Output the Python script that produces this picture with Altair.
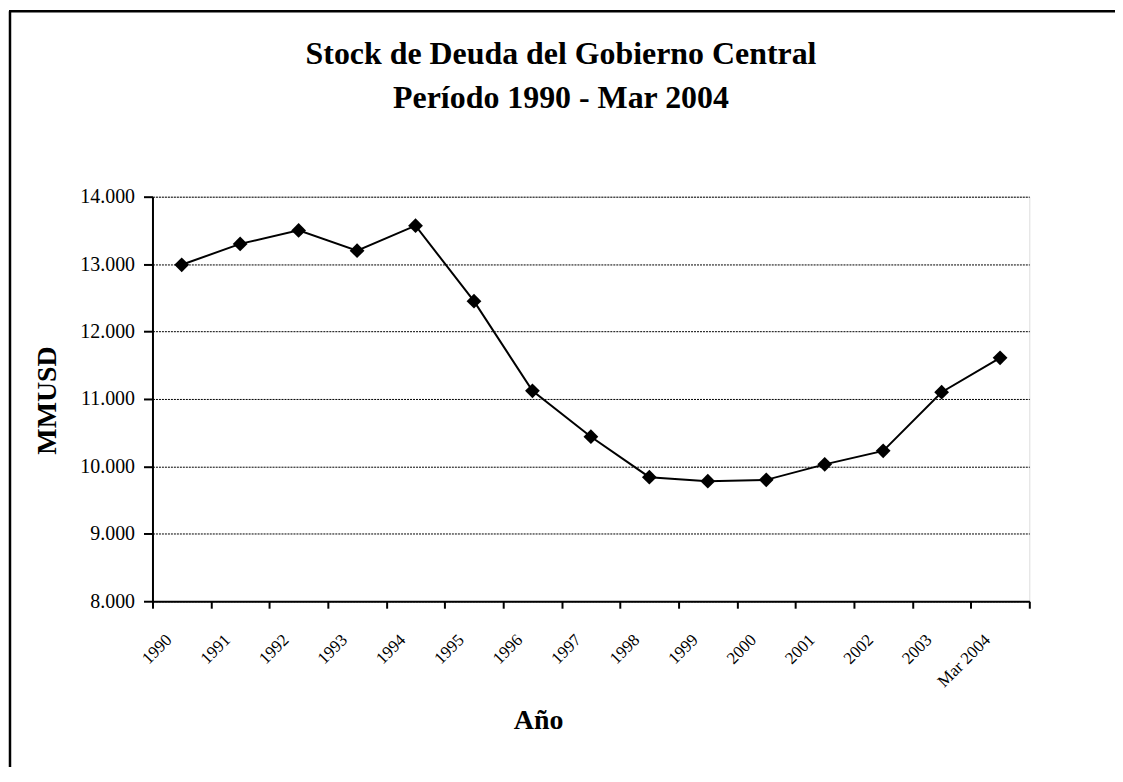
import altair as alt
import pandas as pd

years = ["1990", "1991", "1992", "1993", "1994", "1995", "1996", "1997",
         "1998", "1999", "2000", "2001", "2002", "2003", "Mar 2004"]
stock = [12990, 13300, 13500, 13200, 13570, 12450, 11120, 10440,
         9840, 9780, 9800, 10030, 10230, 11100, 11610]
y_ticks = [8000, 9000, 10000, 11000, 12000, 13000, 14000]
title_lines = ["Stock de Deuda del Gobierno Central", "Período 1990 - Mar 2004"]

df = pd.DataFrame({"year": years, "stock": stock})
FONT = "Liberation Serif"

x_enc = alt.X(
    "year:N", sort=None, bandPosition=0.5,
    scale=alt.Scale(type="band", paddingInner=0, paddingOuter=0),
    axis=alt.Axis(
        title="Año", titleFont=FONT, titleFontSize=28, titleFontWeight="bold",
        titleColor="black", titleX=387, titleY=128, titleAlign="center",
        titleBaseline="alphabetic",
        labelAngle=-45, labelAlign="right", labelBaseline="middle",
        labelFont=FONT, labelFontSize=17, labelColor="black",
        labelOffset=-13, labelPadding=29,
        tickBand="extent", tickSize=7, tickWidth=2, tickColor="black",
        domainColor="black", domainWidth=2, grid=False,
    ),
)
y_enc = alt.Y(
    "stock:Q",
    scale=alt.Scale(domain=[8000, 14000], nice=False, zero=False),
    axis=alt.Axis(
        title="MMUSD", titleFont=FONT, titleFontSize=28, titleFontWeight="bold",
        titleColor="black", titleAngle=270, titleX=-105, titleY=204,
        titleAlign="center", titleBaseline="middle",
        values=y_ticks, labelFont=FONT, labelFontSize=20, labelColor="black",
        labelPadding=9,
        labelExpr="replace(format(datum.value, ','), ',', '.')",
        tickSize=9, tickWidth=2, tickColor="black",
        domainColor="black", domainWidth=2,
        grid=True, gridColor="black", gridWidth=1, gridDash=[2, 1],
    ),
)

base = alt.Chart(df)
line = base.mark_line(color="black", strokeWidth=2).encode(x=x_enc, y=y_enc)
pts = base.mark_point(shape="diamond", filled=True, color="black", size=220,
                      opacity=1).encode(x=x_enc, y=y_enc)

one = pd.DataFrame({"a": [0]})
left_border = alt.Chart(one).mark_rule(color="black", strokeWidth=2.5).encode(
    x=alt.value(-143), y=alt.value(-186), y2=alt.value(600))
top_border = alt.Chart(one).mark_rule(color="black", strokeWidth=2.5).encode(
    x=alt.value(-144), x2=alt.value(1000), y=alt.value(-186))

title1 = alt.Chart(one).mark_text(
    text=title_lines[0], font=FONT, fontSize=32, fontWeight="bold",
    color="black", align="center", baseline="alphabetic",
).encode(x=alt.value(410), y=alt.value(-133))
title2 = alt.Chart(one).mark_text(
    text=title_lines[1], font=FONT, fontSize=32, fontWeight="bold",
    color="black", align="center", baseline="alphabetic",
).encode(x=alt.value(410), y=alt.value(-89))

chart = alt.layer(line, pts, left_border, top_border, title1, title2).properties(
    width=880, height=406,
    autosize=alt.AutoSizeParams(type="none"),
    padding={"left": 145, "top": 188, "right": 86, "bottom": 165},
).configure_view(stroke="black", strokeWidth=2).configure(background="white")

chart.save("out.html", embed_options={"renderer": "svg", "actions": False})
